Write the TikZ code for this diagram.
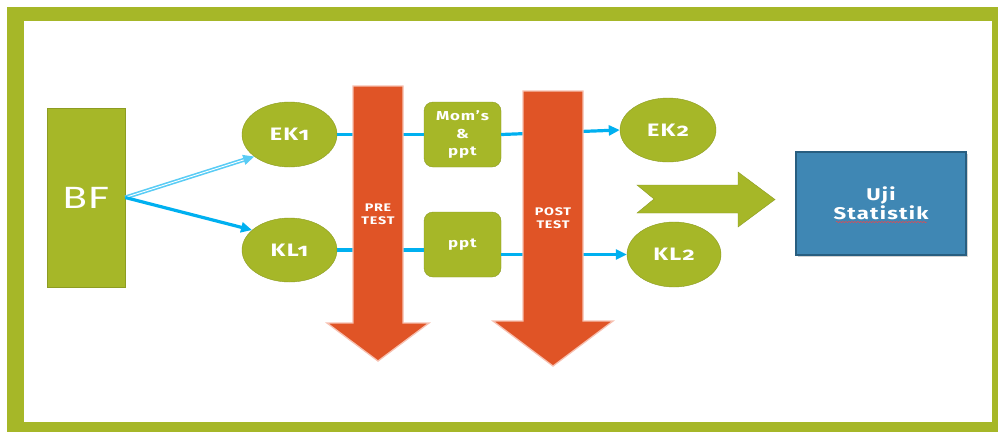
\documentclass[tikz,border=0pt]{standalone}
\usepackage{fontspec}
\setmainfont{Fira Sans}[Numbers=OldStyle,FakeStretch=1.3,LetterSpace=7]
\newfontfamily\bffont{Carlito}[FakeStretch=1.35,LetterSpace=5]
\usetikzlibrary{arrows.meta,shapes.geometric,shadows,decorations.pathmorphing}
\definecolor{leaf}{RGB}{166,183,40}
\definecolor{rust}{RGB}{224,84,38}
\definecolor{rustedge}{RGB}{247,192,176}
\definecolor{sky}{RGB}{0,176,240}
\definecolor{steel}{RGB}{63,135,180}
\definecolor{steeledge}{RGB}{40,94,128}

\begin{document}
\begin{tikzpicture}[x=1pt,y=-1pt,>={Triangle[length=11pt,width=10pt]},semithick]
  \tikzstyle{grp}=[ellipse,fill=leaf,draw=leaf!85!black,thin,text=white,font=\fontsize{18}{20}\selectfont\bfseries,inner sep=0pt,minimum width=95pt,minimum height=65pt]
  \tikzstyle{media}=[rectangle,rounded corners=9pt,fill=leaf,draw=leaf!85!black,thin,text=white,align=center,font=\fontsize{13}{17.5}\selectfont\bfseries,inner sep=0pt,minimum width=77pt,minimum height=65pt]
  \tikzstyle{link}=[draw=sky,line width=3.2pt]
  \tikzstyle{testarrow}=[fill=rust,draw=rustedge,line width=1.3pt]
  \tikzstyle{testlabel}=[text=white,align=center,font=\fontsize{11}{13}\selectfont\bfseries,inner sep=0pt]
\useasboundingbox (0,0) rectangle (998,432);
\fill[leaf] (7,7) rectangle (998,432);
\fill[white] (24,21) rectangle (992,422);

\node[rectangle,fill=leaf,draw=leaf!85!black,thin,text=white,font=\fontsize{33}{33}\selectfont\bffont,minimum width=78pt,minimum height=179pt] (bf) at (86,197.5) {BF};
\node[grp] (ek1) at (289.5,134.5) {EK1};
\node[grp,minimum height=64pt] (kl1) at (289.5,250) {KL1};
\node[media] (mom) at (462.5,134.5) {Mom’s\\\&\\ppt};
\node[media] (ppt) at (462.5,244.5) {ppt};
\node[grp,minimum width=96pt,minimum height=64pt] (ek2) at (668,130) {EK2};
\node[grp,minimum width=94pt] (kl2) at (674,254.5) {KL2};

\path
(bf.east) edge [->,draw=sky!65,line width=1.6pt,double=white,double distance=0.9pt] (ek1.212)
(bf.east) edge [->,link] (kl1.152)
(ek1) edge [link] (mom)
(mom.east) edge [->,link] (ek2.west)
(kl1.east) edge [link] (kl1.east -| ppt.west)
(ppt.east |- kl2) edge [->,link] (kl2.west);

\draw[testarrow] (353,86) -- (403,86) -- (403,323) -- (429,323) -- (378,361) -- (327,323) -- (353,323) -- cycle;
\draw[testarrow] (523,91) -- (583,91) -- (583,321) -- (613,321) -- (553,366) -- (493,321) -- (523,321) -- cycle;
\node[testlabel] (pre) at (378,214) {PRE\\TEST};
\node[testlabel] (post) at (553,218) {POST\\TEST};

\draw[fill=leaf,draw=leaf!85!black,thin] (637,185) -- (738,185) -- (738,172) -- (775,199.5) -- (738,227) -- (738,213) -- (637,213) -- (654,199) -- cycle;

\node[rectangle,fill=steel,draw=steeledge,line width=1.5pt,drop shadow={opacity=0.35,shadow xshift=1.5pt,shadow yshift=-2pt},text=white,align=center,font=\fontsize{17}{19}\selectfont\bfseries,minimum width=170pt,minimum height=103pt] (uji) at (881,203.5) {Uji\\Statistik};
\draw[red!75,line width=0.45pt,decorate,decoration={snake,amplitude=0.6pt,segment length=3pt}] ([xshift=-45pt,yshift=-18.5pt]uji.center) -- ([xshift=46pt,yshift=-18.5pt]uji.center);
\end{tikzpicture}
\end{document}
